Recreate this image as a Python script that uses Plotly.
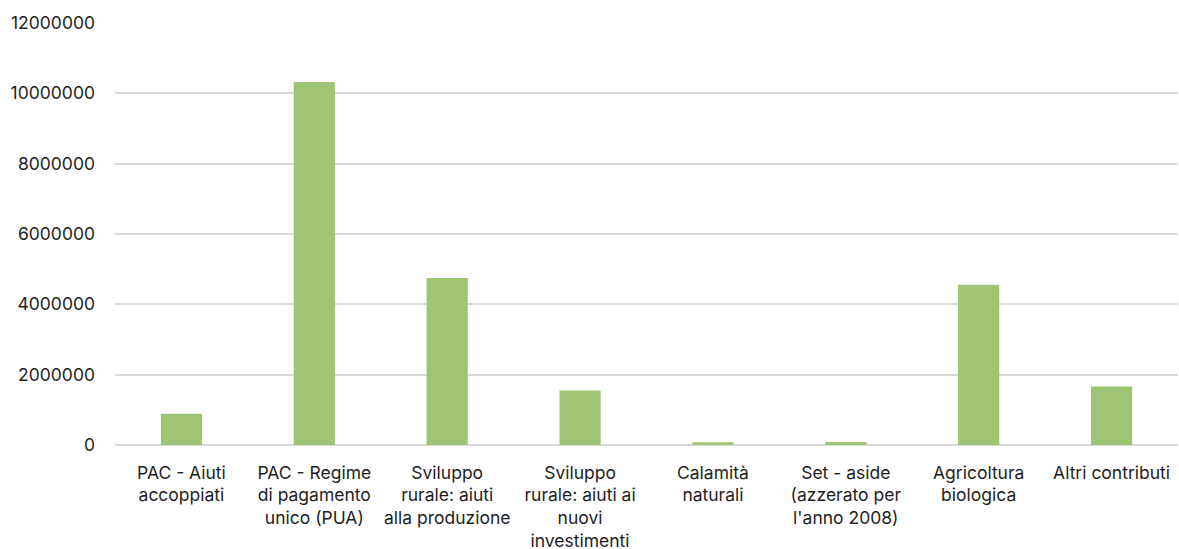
import plotly.graph_objects as go

categories = [
    "PAC - Aiuti<br>accoppiati",
    "PAC - Regime<br>di pagamento<br>unico (PUA)",
    "Sviluppo<br>rurale: aiuti<br>alla produzione",
    "Sviluppo<br>rurale: aiuti ai<br>nuovi<br>investimenti",
    "Calamità<br>naturali",
    "Set - aside<br>(azzerato per<br>l'anno 2008)",
    "Agricoltura<br>biologica",
    "Altri contributi",
]
values = [890000, 10320000, 4750000, 1550000, 80000, 85000, 4560000, 1660000]
y_ticks = [0, 2000000, 4000000, 6000000, 8000000, 10000000, 12000000]

fig = go.Figure(
    go.Bar(x=categories, y=values, marker=dict(color="#9fc474", line=dict(width=0)))
)
fig.update_layout(
    width=1179, height=549,
    margin=dict(l=115, r=1, t=23, b=104, autoexpand=False),
    paper_bgcolor="white", plot_bgcolor="white",
    bargap=0.69,
    font=dict(family="Inter, Roboto, sans-serif", size=17.5, color="#1e1e1e"),
    showlegend=False,
)
fig.update_xaxes(showgrid=False, showline=False, ticks="", tickangle=0,
                 ticklabelstandoff=15, automargin=False)
fig.update_yaxes(
    range=[0, 12000000], tickvals=y_ticks, ticktext=[str(v) for v in y_ticks],
    showgrid=True, gridcolor="#d9d9d9", gridwidth=1.5,
    zeroline=True, zerolinecolor="#d9d9d9", zerolinewidth=2,
    ticks="", ticklabelstandoff=19, automargin=False,
)
fig.write_html(
    "out.html",
    config={"displayModeBar": False},
    post_script="document.body.style.margin='0';document.body.style.overflow='hidden';",
)
